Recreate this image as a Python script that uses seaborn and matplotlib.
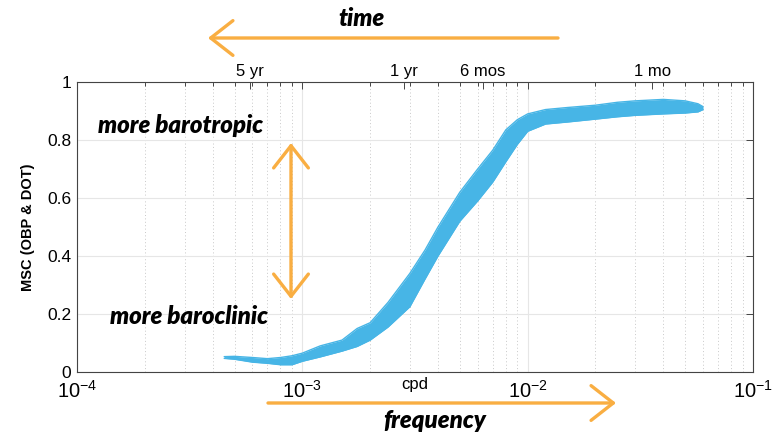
import numpy as np
import pandas as pd
import matplotlib
matplotlib.use("Agg")
import matplotlib.pyplot as plt
from matplotlib.ticker import LogLocator, FixedLocator, FixedFormatter, NullFormatter
import seaborn as sns

# ---- data ----
freq_cpd = [4.5e-4, 5.0e-4, 6.0e-4, 7.0e-4, 8.0e-4, 9.0e-4, 1.0e-3, 1.2e-3, 1.5e-3,
            1.75e-3, 2.0e-3, 2.4e-3, 3.0e-3, 3.5e-3, 4.0e-3, 5.0e-3, 6.0e-3, 7.0e-3,
            8.0e-3, 9.0e-3, 1.0e-2, 1.2e-2, 1.5e-2, 2.0e-2, 2.5e-2, 3.0e-2, 4.0e-2,
            5.0e-2, 5.7e-2, 6.0e-2]
msc_low = [0.047, 0.044, 0.034, 0.030, 0.025, 0.025, 0.037, 0.052, 0.072,
           0.088, 0.11, 0.155, 0.225, 0.32, 0.40, 0.52, 0.59, 0.655,
           0.725, 0.785, 0.83, 0.855, 0.862, 0.872, 0.88, 0.885, 0.89,
           0.893, 0.897, 0.905]
msc_high = [0.053, 0.054, 0.050, 0.046, 0.050, 0.056, 0.065, 0.09, 0.11,
            0.15, 0.17, 0.24, 0.34, 0.42, 0.50, 0.62, 0.70, 0.765,
            0.835, 0.87, 0.89, 0.905, 0.912, 0.92, 0.93, 0.935, 0.94,
            0.935, 0.925, 0.915]

yticks = [0, 0.2, 0.4, 0.6, 0.8, 1.0]
ytick_labels = ["0", "0.2", "0.4", "0.6", "0.8", "1"]
period_freqs = [5.86e-4, 2.83e-3, 6.33e-3, 3.57e-2]
period_labels = ["5 yr", "1 yr", "6 mos", "1 mo"]

df = pd.DataFrame({"freq": freq_cpd, "low": msc_low, "high": msc_high})

# ---- style ----
sns.set_style("white")
plt.rcParams["font.family"] = ["Liberation Sans", "DejaVu Sans"]
plt.rcParams["mathtext.fontset"] = "custom"
plt.rcParams["mathtext.rm"] = "Liberation Sans"
plt.rcParams["mathtext.it"] = "Liberation Sans:italic"
plt.rcParams["text.color"] = "black"
plt.rcParams["axes.labelcolor"] = "black"
plt.rcParams["xtick.color"] = "black"
plt.rcParams["ytick.color"] = "black"

BLUE = "#47B5E6"
ORANGE = "#F9AE42"
W, H = 780, 437

fig = plt.figure(figsize=(7.8, 4.37), dpi=100)
ax = fig.add_axes([77 / W, 1 - 372 / H, (753 - 77) / W, (372 - 82) / H])

ax.set_xscale("log")
ax.set_xlim(1e-4, 1e-1)
ax.set_ylim(0, 1)

# band
ax.fill_between(df["freq"], df["low"], df["high"], color=BLUE, lw=0, zorder=3)
sns.lineplot(data=df, x="freq", y="low", ax=ax, color=BLUE, lw=1.0, zorder=3)
sns.lineplot(data=df, x="freq", y="high", ax=ax, color=BLUE, lw=1.0, zorder=3)
ax.set_xlabel("")
ax.set_ylabel("")

# ticks
ax.xaxis.set_major_locator(LogLocator(base=10, numticks=10))
ax.xaxis.set_minor_locator(LogLocator(base=10, subs=np.arange(2, 10), numticks=20))
ax.xaxis.set_minor_formatter(NullFormatter())
ax.yaxis.set_major_locator(FixedLocator(yticks))
ax.yaxis.set_major_formatter(FixedFormatter(ytick_labels))
ax.tick_params(axis="both", which="both", direction="in", top=True, right=True,
               color="#444444", width=0.7, labelcolor="black")
ax.tick_params(axis="both", which="major", length=5)
ax.tick_params(axis="x", which="minor", length=3)
ax.tick_params(axis="x", which="major", labelsize=14.5, pad=6)
ax.tick_params(axis="y", which="major", labelsize=12.5, pad=4)

ax.grid(True, which="major", color="#E6E6E6", lw=0.8, zorder=0)
ax.grid(True, which="minor", axis="x", color="#C8C8C8", lw=0.7,
        linestyle=(0, (1, 2.5)), zorder=0)
ax.set_axisbelow(True)
for s in ax.spines.values():
    s.set_color("#444444")
    s.set_linewidth(0.8)

ax.set_ylabel("MSC (OBP & DOT)", fontsize=10.5, fontweight="bold", labelpad=9,
              color="black")

# secondary top axis with periods
sec = ax.secondary_xaxis("top")
sec.set_xticks(period_freqs)
sec.set_xticklabels(period_labels)
sec.xaxis.set_minor_locator(FixedLocator([]))
sec.tick_params(axis="x", which="major", direction="in", length=5, pad=2,
                labelsize=12, color="#444444", width=0.7, labelcolor="black")
sec.spines["top"].set_visible(False)

# cpd label
ax.text(0.5, -0.042, "cpd", transform=ax.transAxes, ha="center", va="center",
        fontsize=12, color="black")

# ---- annotations (figure pixel coordinates, origin top-left) ----
def fp(x, y):
    return (x, H - y)

arrow_kw = dict(color=ORANGE, lw=2.4, shrinkA=0, shrinkB=0)
hs = "head_length=1.6,head_width=1.25"

ax.annotate("", xy=fp(208, 38), xytext=fp(558, 38), xycoords="figure pixels",
            textcoords="figure pixels", annotation_clip=False,
            arrowprops=dict(arrowstyle="->," + hs, **arrow_kw))
ax.annotate("", xy=fp(616, 403), xytext=fp(268, 403), xycoords="figure pixels",
            textcoords="figure pixels", annotation_clip=False,
            arrowprops=dict(arrowstyle="->," + hs, **arrow_kw))
ax.annotate("", xy=fp(291, 143), xytext=fp(291, 299), xycoords="figure pixels",
            textcoords="figure pixels", annotation_clip=False,
            arrowprops=dict(arrowstyle="<->," + hs, **arrow_kw))


def ftext(x, y, s):
    fig.text(x / W, 1 - y / H, s, fontsize=17.3, fontweight="heavy", style="italic",
             family=["Lato", "DejaVu Sans"], ha="center", va="center", color="black")


ftext(361, 18, "time")
ftext(435, 420, "frequency")
ftext(181, 125, "more barotropic")
ftext(189, 317, "more baroclinic")

fig.savefig("out.png", dpi=100)
